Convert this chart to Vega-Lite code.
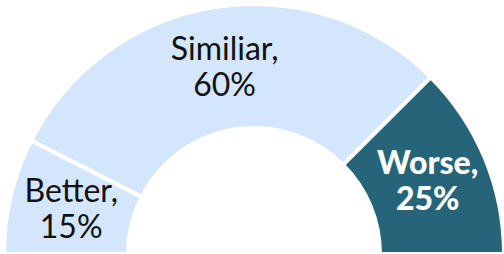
{
  "$schema": "https://vega.github.io/schema/vega-lite/v6.json",
  "width": 500,
  "height": 254,
  "padding": {"left": 4, "top": 0, "right": 0, "bottom": 0},
  "autosize": "none",
  "background": "white",
  "config": {"view": {"stroke": null}},
  "data": {
    "values": [
      {"category": "Better", "value": 15, "order": 1, "label": ["Better,", "15%"]},
      {"category": "Similiar", "value": 60, "order": 2, "label": ["Similiar,", "60%"]},
      {"category": "Worse", "value": 25, "order": 3, "label": ["Worse,", "25%"]}
    ]
  },
  "encoding": {
    "theta": {"field": "value", "type": "quantitative", "stack": true, "scale": {"range": [-1.5708, 1.5708]}},
    "order": {"field": "order", "type": "quantitative"}
  },
  "layer": [
    {
      "mark": {"type": "arc", "radius": 250, "radius2": 126, "stroke": "white", "strokeWidth": 4, "x": {"expr": "width/2"}, "y": {"expr": "height"}},
      "encoding": {
        "color": {
          "field": "category",
          "type": "nominal",
          "scale": {"domain": ["Better", "Similiar", "Worse"], "range": ["#d3e6fc", "#d3e6fc", "#266479"]},
          "legend": null
        }
      }
    },
    {
      "mark": {"type": "text", "radius": 188, "dy": -18, "font": "Lato", "fontSize": 32, "lineHeight": 36, "color": "#111111", "align": "center", "baseline": "middle", "x": {"expr": "width/2"}, "y": {"expr": "height"}},
      "encoding": {
        "text": {"field": "label"},
        "opacity": {"condition": {"test": "datum.category != 'Worse'", "value": 1}, "value": 0}
      }
    },
    {
      "mark": {"type": "text", "radius": 188, "dy": -18, "font": "Lato", "fontSize": 32, "fontWeight": 900, "lineHeight": 36, "color": "white", "align": "center", "baseline": "middle", "x": {"expr": "width/2"}, "y": {"expr": "height"}},
      "encoding": {
        "text": {"field": "label"},
        "opacity": {"condition": {"test": "datum.category == 'Worse'", "value": 1}, "value": 0}
      }
    }
  ]
}
